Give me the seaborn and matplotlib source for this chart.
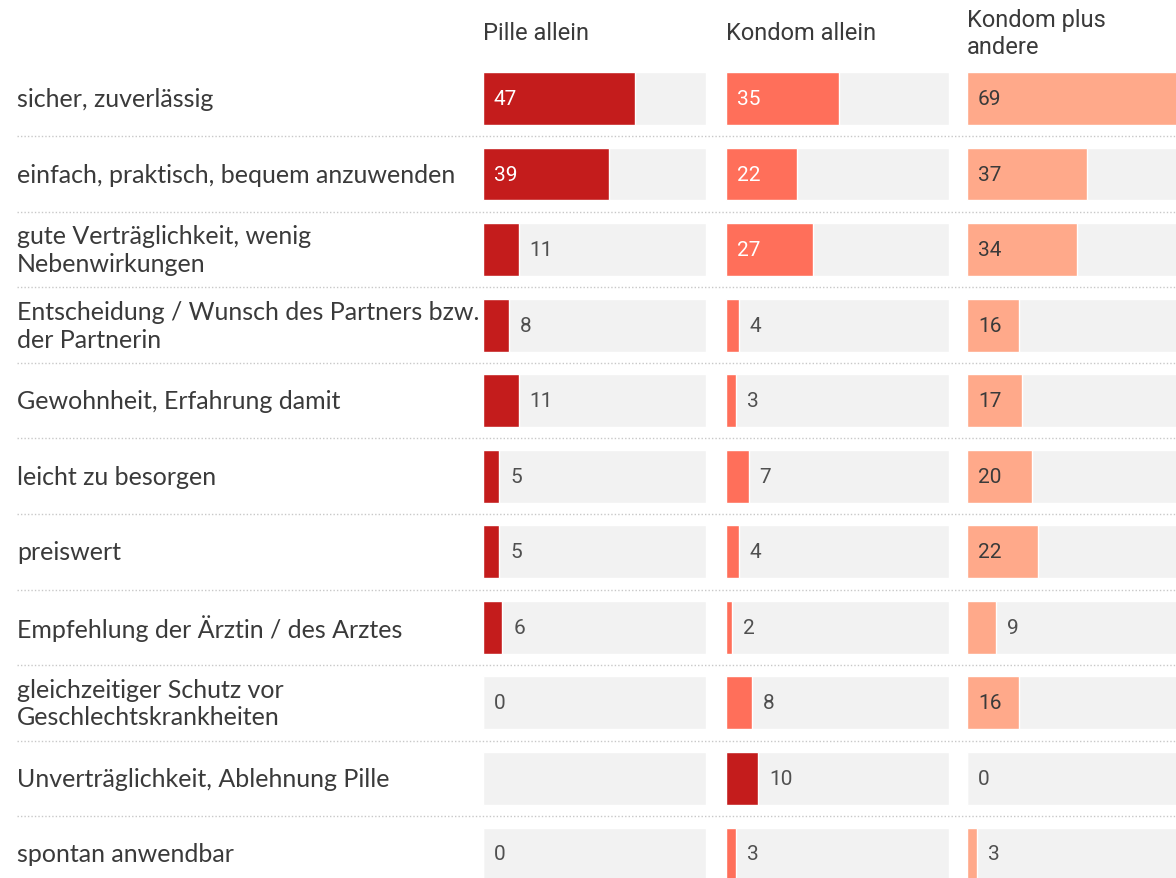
"""Gründe für die Wahl des Verhütungsmittels – Balken je Methode."""

import numpy as np
import matplotlib.pyplot as plt
from matplotlib.lines import Line2D
import seaborn as sns

# --- DATA ---
reasons = [
    'sicher, zuverlässig',
    'einfach, praktisch, bequem anzuwenden',
    'gute Verträglichkeit, wenig\nNebenwirkungen',
    'Entscheidung / Wunsch des Partners bzw.\nder Partnerin',
    'Gewohnheit, Erfahrung damit',
    'leicht zu besorgen',
    'preiswert',
    'Empfehlung der Ärztin / des Arztes',
    'gleichzeitiger Schutz vor\nGeschlechtskrankheiten',
    'Unverträglichkeit, Ablehnung Pille',
    'spontan anwendbar',
]
methods = ['Pille allein', 'Kondom allein', 'Kondom plus\nandere']
pille = [47, 39, 11, 8, 11, 5, 5, 6, 0, np.nan, 0]
kondom = [35, 22, 27, 4, 3, 7, 4, 2, 8, 10, 3]
kondom_plus = [69, 37, 34, 16, 17, 20, 22, 9, 16, 0, 3]
values = [pille, kondom, kondom_plus]

# highlighted cell (method index, row index)
highlight = (1, 9)

# --- STYLE ---
sns.set_theme(style='white')
plt.rcParams['font.family'] = ['Lato', 'DejaVu Sans']
cond_font = ['Roboto', 'DejaVu Sans']

bar_colors = ['#c41c1c', '#ff6f5a', '#ffa98a']
inside_text = ['white', 'white', '#3a3a3a']
bg_color = '#f2f2f2'
text_color = '#3a3a3a'

W, H = 1176, 879
row_px = 75.55
first_px = 99.5
col_x = [483, 726, 967]
col_w = 223
xmax = 69
y_top = -first_px / row_px
y_bot = (H - first_px) / row_px
off = 11 / col_w * xmax

fig = plt.figure(figsize=(W / 100, H / 100), dpi=100)

# dotted separators between rows
for i in range(len(reasons) - 1):
    yf = 1 - (first_px + (i + 0.5) * row_px) / H
    fig.add_artist(Line2D([17 / W, 1], [yf, yf], transform=fig.transFigure,
                          color='#c8c8c8', lw=1, linestyle=(0, (1, 1.5))))

# row labels
for i, r in enumerate(reasons):
    yf = 1 - (first_px + i * row_px) / H
    fig.text(17 / W, yf, r, va='center', ha='left', fontsize=18,
             color=text_color, linespacing=1.25)

for k, (m, vals) in enumerate(zip(methods, values)):
    ax = fig.add_axes([col_x[k] / W, 0, col_w / W, 1])
    sns.barplot(x=[xmax] * len(reasons), y=reasons, color=bg_color,
                width=0.7, ax=ax, saturation=1)
    colors = [bar_colors[0] if (k, i) == highlight else bar_colors[k]
              for i in range(len(reasons))]
    sns.barplot(x=vals, y=reasons, hue=reasons, palette=colors, width=0.7,
                legend=False, ax=ax, saturation=1)
    ax.set_xlim(0, xmax)
    ax.set_ylim(y_bot, y_top)
    ax.axis('off')

    for i, v in enumerate(vals):
        if np.isnan(v):
            continue
        if v >= 15:
            ax.text(off, i, f'{v:.0f}', va='center', ha='left', fontsize=15,
                    color=inside_text[k], family=cond_font)
        else:
            ax.text(v + off, i, f'{v:.0f}', va='center', ha='left', fontsize=15,
                    color='#505050', family=cond_font)

    fig.text(col_x[k] / W, 1 - 34 / H, m, va='center', ha='left', fontsize=17,
             color=text_color, family=cond_font, linespacing=1.25)

fig.savefig('out.png', dpi=100, facecolor='white')
